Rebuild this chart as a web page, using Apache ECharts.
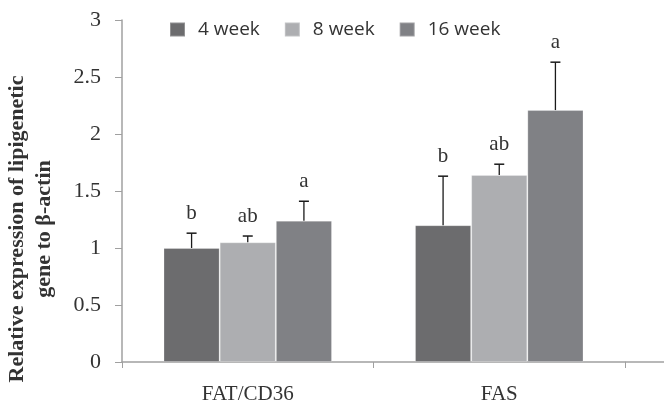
<!DOCTYPE html>
<html><head><meta charset="utf-8">
<script src="https://cdn.jsdelivr.net/npm/echarts@6/dist/echarts.min.js"></script>
<style>html,body{margin:0;padding:0;background:#fff}#c{width:664px;height:405px}</style>
</head><body><div id="c"></div>
<script>
const categories = ['FAT/CD36', 'FAS'];
const seriesNames = ['4 week', '8 week', '16 week'];
const values4 = [1.00, 1.20];
const values8 = [1.05, 1.64];
const values16 = [1.24, 2.21];
const err4 = [0.13, 0.43];
const err8 = [0.055, 0.095];
const err16 = [0.17, 0.42];
const letters4 = ['b', 'b'];
const letters8 = ['ab', 'ab'];
const letters16 = ['a', 'a'];
const yTicks = [0, 0.5, 1, 1.5, 2, 2.5, 3];

const colors = ['#6c6c6e', '#adaeb1', '#808185'];
const vals = [values4, values8, values16];
const errs = [err4, err8, err16];
const letters = [letters4, letters8, letters16];
const catGap = 0.33;

const chart = echarts.init(document.getElementById('c'));
const series = [];
seriesNames.forEach((n, i) => {
  series.push({
    name: n, type: 'bar', data: vals[i], barGap: '0%', barCategoryGap: (catGap*100)+'%',
    itemStyle: { color: colors[i], borderColor: 'rgba(255,255,255,0.25)', borderWidth: 1 },
    z: 2
  });
});
seriesNames.forEach((n, i) => {
  series.push({
    type: 'custom', name: n + ' err',
    data: categories.map((c, k) => [k, vals[i][k], errs[i][k], letters[i][k]]),
    z: 3,
    renderItem: function (params, api) {
      const k = api.value(0);
      const band = api.size([1, 0])[0];
      const bw = band * (1 - catGap) / 3;
      const base = api.coord([k, api.value(1)]);
      const top = api.coord([k, api.value(1) + api.value(2)]);
      const x = base[0] + (i - 1) * bw;
      const cap = 5;
      return {
        type: 'group',
        children: [
          { type: 'line', shape: { x1: x, y1: base[1], x2: x, y2: top[1] }, style: { stroke: '#1a1a1a', lineWidth: 1.3 } },
          { type: 'line', shape: { x1: x - cap, y1: top[1], x2: x + cap, y2: top[1] }, style: { stroke: '#1a1a1a', lineWidth: 1.5 } },
          { type: 'text', x: x, y: top[1] - 9, style: { text: letters[i][k], textAlign: 'center', textVerticalAlign: 'bottom', fontFamily: 'Liberation Serif', fontSize: 21, fill: '#333' } }
        ]
      };
    }
  });
});

chart.setOption({
  animation: false,
  grid: { left: 122, right: 39, top: 20, bottom: 43, containLabel: false, outerBoundsMode: 'none' },
  legend: {
    data: seriesNames, left: 164, top: 15, icon: 'rect', itemWidth: 15, itemHeight: 14, itemGap: 24,
    textStyle: { fontFamily: 'Open Sans', fontSize: 19, color: '#333', padding: [0, 0, 0, 8] }
  },
  xAxis: {
    type: 'category', data: categories,
    axisLine: { lineStyle: { color: '#a0a0a0', width: 1.5 } },
    axisTick: { show: true, length: 6, lineStyle: { color: '#a0a0a0' } },
    axisLabel: { fontFamily: 'Liberation Serif', fontSize: 21, color: '#333', margin: 22 }
  },
  yAxis: {
    type: 'value', min: yTicks[0], max: yTicks[yTicks.length - 1], interval: 0.5,
    name: 'Relative expression of lipigenetic\ngene to β-actin', nameLocation: 'middle', nameGap: 64,
    nameTextStyle: { fontFamily: 'Liberation Serif', fontSize: 22, fontWeight: 'bold', color: '#333', lineHeight: 27, padding: [0, 76, 0, 0] },
    axisLine: { show: true, lineStyle: { color: '#a0a0a0', width: 1.5 } },
    axisTick: { show: true, length: 7, lineStyle: { color: '#a0a0a0' } },
    splitLine: { show: false },
    axisLabel: { fontFamily: 'Liberation Serif', fontSize: 22, color: '#333', margin: 21 }
  },
  graphic: [{ type: 'line', shape: { x1: 625, y1: 362, x2: 664, y2: 362 }, style: { stroke: '#a0a0a0', lineWidth: 1.5 } }],
  series: series
});
</script></body></html>
